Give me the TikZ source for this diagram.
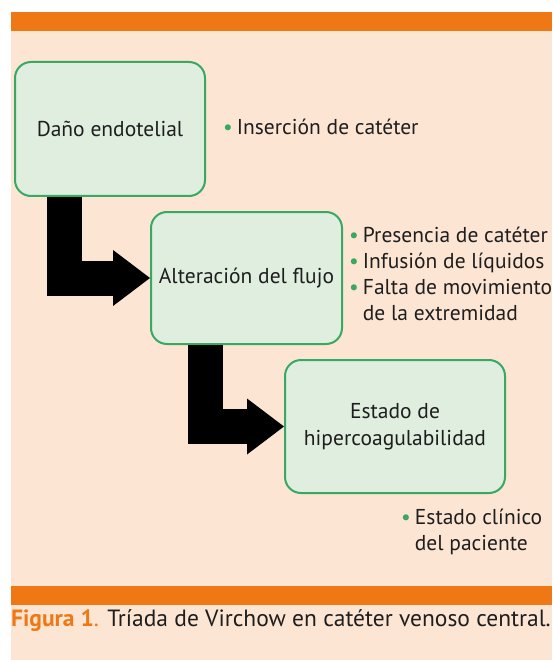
\documentclass[tikz,border=0pt]{standalone}
\usepackage{fontspec}
\setmainfont{PT Sans}
\usetikzlibrary{arrows.meta, positioning, calc}
\definecolor{BarOrange}{RGB}{240, 120, 20}
\definecolor{PanelPeach}{RGB}{253, 229, 211}
\definecolor{BoxGreen}{RGB}{56, 168, 98}
\definecolor{BoxFill}{RGB}{224, 238, 224}
\definecolor{TextDark}{RGB}{30, 30, 30}

\tikzset{
  stagebox/.style={draw=BoxGreen, line width=2pt, fill=BoxFill, rounded corners=16pt,
                   align=center, text=TextDark, font=\fontsize{21.5}{27}\selectfont},
  factorlist/.style={align=left, text=TextDark, inner sep=0pt, font=\fontsize{21.5}{26}\selectfont},
  flowarrow/.style={line width=35pt, line join=miter,
                    -{Triangle[length=37pt, width=56pt, line width=0pt]}}
}
\newcommand{\gbul}{\textcolor{BoxGreen}{\textbullet}\hspace{4pt}}

\begin{document}
\begin{tikzpicture}[x=1pt,y=-1pt]
  \useasboundingbox (0,0) rectangle (552,660);
  % panel and bars
  \fill[PanelPeach] (11,12) rectangle (552,660);
  \fill[BarOrange] (11,12) rectangle (552,31);
  \fill[BarOrange] (11,586) rectangle (552,605);

  % the three stages
  \node[stagebox, minimum width=190pt, minimum height=134pt] (dano) at (110,129) {Daño endotelial};
  \node[stagebox, minimum width=191pt, minimum height=132pt] (flujo) at (246.5,278) {Alteración del flujo};
  \node[stagebox, minimum width=220pt, minimum height=133pt] (hiper) at (395,426.5)
       {Estado de\\hipercoagulabilidad};

  % factors
  \node[factorlist, anchor=west] (f1) at (223,127) {\gbul Inserción de catéter};
  \node[factorlist, anchor=north west] (f2) at (349,227)
       {\gbul Presencia de catéter\\
        \gbul Infusión de líquidos\\
        \gbul Falta de movimiento\\
        \hphantom{\gbul}de la extremidad};
  \node[factorlist, anchor=north west] (f3) at (401,508.5)
       {\gbul Estado clínico\\
        \hphantom{\gbul}del paciente};

  % L-shaped arrows
  \draw[flowarrow] ([xshift=50pt]dano.south west) |- (flujo.west);
  \draw[flowarrow] ([xshift=55pt]flujo.south west) |- (hiper.west);

  % caption
  \node[anchor=base west, inner sep=0pt, text=TextDark, font=\fontsize{23.5}{28}\selectfont] (cap) at (11,626)
       {\textcolor{BarOrange}{\textbf{Figura 1}.} Tríada de Virchow en catéter venoso central.};
\end{tikzpicture}
\end{document}
